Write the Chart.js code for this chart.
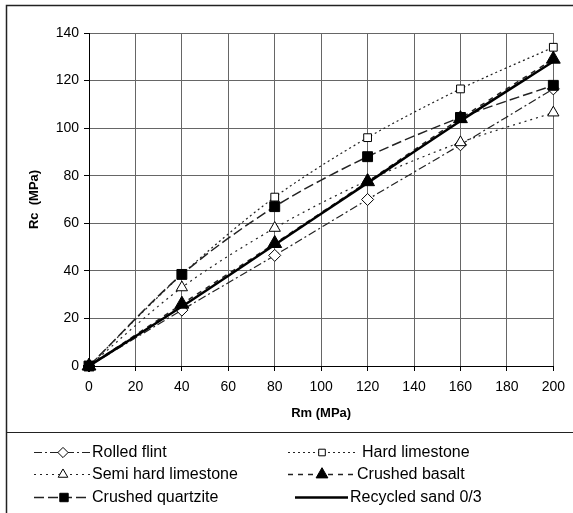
<!DOCTYPE html>
<html>
<head>
<meta charset="utf-8">
<script src="https://cdn.jsdelivr.net/npm/chart.js@4.4.1/dist/chart.umd.min.js"></script>
<style>
  html, body { margin: 0; padding: 0; background: #fff; }
  #wrap { width: 573px; height: 513px; }
</style>
</head>
<body>
<div id="wrap"><canvas id="c" width="573" height="513"></canvas></div>
<script>
/* Rc vs Rm – sand types */

const RM = [0, 40, 80, 120, 160, 200];
const ROLLED_FLINT = [0, 23.5, 46.5, 70, 93, 116.5];
const HARD_LIMESTONE = [0, 38.5, 71, 96, 116.5, 134];
const SEMI_HARD_LIMESTONE = [0, 33, 58, 78, 94, 106.5];
const CRUSHED_BASALT = [0, 26, 51.5, 77.5, 104, 129];
const CRUSHED_QUARTZITE = [0, 38.5, 67, 88, 104.5, 118];
const RECYCLED_SAND = [0, 25, 51, 77, 103, 128];

const FONT = "'Liberation Sans', Arial, sans-serif";

function pts(arr) {
  return RM.map((x, i) => ({ x, y: arr[i] }));
}

function series(label, arr, o) {
  return Object.assign({
    label,
    data: pts(arr),
    borderColor: "#222",
    borderWidth: 1.2,
    backgroundColor: "#fff",
    pointBorderColor: "#000",
    pointBorderWidth: 1,
    tension: 0.3,
    clip: false,
  }, o);
}

const datasets = [
  series("Rolled flint", ROLLED_FLINT, { borderDash: [8, 3, 2, 3], pointStyle: "rectRot", pointRadius: 6, order: 6 }),
  series("Hard limestone", HARD_LIMESTONE, { borderDash: [2, 3], pointStyle: "rect", pointRadius: 5.5, order: 5 }),
  series("Semi hard limestone", SEMI_HARD_LIMESTONE, { borderDash: [2, 4], pointStyle: "triangle", pointRadius: 6.5, order: 4 }),
  series("Crushed basalt", CRUSHED_BASALT, { borderDash: [5, 5], borderWidth: 1.5, pointStyle: "triangle", pointRadius: 8, backgroundColor: "#000", order: 3 }),
  series("Crushed quartzite", CRUSHED_QUARTZITE, { borderDash: [10, 4], borderWidth: 1.5, pointStyle: "rect", pointRadius: 7, backgroundColor: "#000", order: 2 }),
  series("Recycled sand 0/3", RECYCLED_SAND, { borderColor: "#000", borderWidth: 2.5, pointRadius: 0, order: 1 }),
];

// legend slots: [sample start, marker x, sample end, text x, y]
const LEGEND_POS = [
  [34, 63, 90, 92, 452],
  [288, 322, 358, 362, 452],
  [34, 63, 90, 92, 474],
  [288, 322, 354, 357, 474],
  [34, 64, 90, 92, 497],
  [295, 322, 348, 350, 497],
];

const framePlugin = {
  id: "frame",
  beforeDraw(chart) {
    const ctx = chart.ctx;
    ctx.save();
    ctx.fillStyle = "#fff";
    ctx.fillRect(0, 0, chart.width, chart.height);
    ctx.restore();
  },
  afterDraw(chart) {
    const ctx = chart.ctx;
    ctx.save();
    ctx.strokeStyle = "#222";
    ctx.lineWidth = 1.5;
    ctx.strokeRect(6.5, 5.5, 600, 600);
    ctx.beginPath();
    ctx.moveTo(6, 432.5);
    ctx.lineTo(573, 432.5);
    ctx.lineWidth = 1.2;
    ctx.stroke();

    // legend
    chart.data.datasets.forEach((ds, i) => {
      const [x0, xm, x1, xt, y] = LEGEND_POS[i];
      ctx.save();
      ctx.strokeStyle = ds.borderColor;
      ctx.lineWidth = ds.borderWidth;
      ctx.setLineDash(ds.borderDash || []);
      ctx.beginPath();
      ctx.moveTo(x0, y + 0.5);
      ctx.lineTo(x1, y + 0.5);
      ctx.stroke();
      ctx.setLineDash([]);
      if (ds.pointRadius > 0) {
        ctx.fillStyle = ds.backgroundColor;
        ctx.strokeStyle = "#000";
        ctx.lineWidth = 1;
        Chart.helpers.drawPoint(ctx, {
          pointStyle: ds.pointStyle,
          radius: ds.pointRadius * 0.85,
          rotation: 0,
          borderWidth: 1,
        }, xm, y + 0.5);
      }
      ctx.fillStyle = "#000";
      ctx.font = "16px " + FONT;
      ctx.textBaseline = "middle";
      ctx.fillText(ds.label, xt, y + 1);
      ctx.restore();
    });
    ctx.restore();
  },
};

new Chart(document.getElementById("c"), {
  type: "line",
  data: { datasets },
  plugins: [framePlugin],
  options: {
    responsive: false,
    animation: false,
    layout: { padding: { left: 6, top: 33, right: 14, bottom: 87 } },
    plugins: { legend: { display: false }, tooltip: { enabled: false } },
    scales: {
      x: {
        type: "linear",
        min: 0,
        max: 200,
        ticks: { stepSize: 20, color: "#000", font: { family: FONT, size: 14 }, padding: 8, maxRotation: 0 },
        grid: { color: "#666", tickColor: "#000", tickLength: 5 },
        border: { color: "#000", width: 1 },
        title: { display: true, text: "Rm (MPa)", color: "#000", font: { family: FONT, size: 13, weight: "bold" }, padding: { top: 4, bottom: 5 } },
        afterFit(s) { s.height = 60; },
      },
      y: {
        min: 0,
        max: 140,
        ticks: { stepSize: 20, color: "#000", font: { family: FONT, size: 14 }, padding: 5 },
        grid: { color: "#666", tickColor: "#000", tickLength: 5 },
        border: { color: "#000", width: 1 },
        title: { display: true, text: "Rc  (MPa)", color: "#000", font: { family: FONT, size: 13, weight: "bold" }, padding: { top: 21, bottom: 0 } },
        afterFit(s) { s.width = 83; },
      },
    },
  },
});
</script>
</body>
</html>
